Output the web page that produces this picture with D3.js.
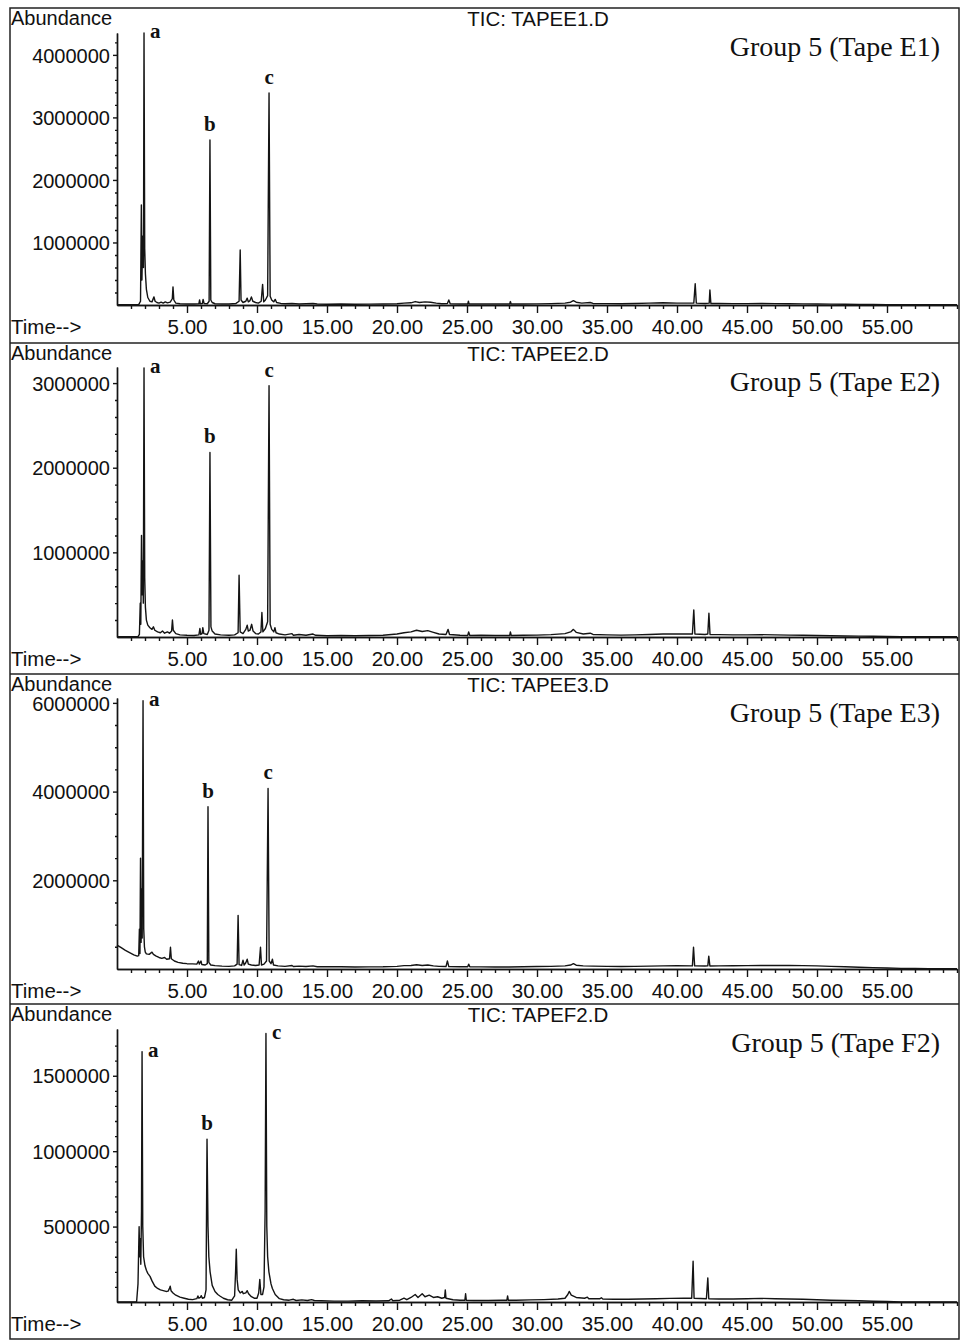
<!DOCTYPE html>
<meta charset="utf-8">
<style type="text/css">
body { margin: 0; background: #fff; }
.trace { fill: none; stroke: #141414; stroke-width: 1.4px; stroke-linejoin: round; }
.frame { stroke: #222; stroke-width: 1.5px; }
.axis path, .axis line { stroke: #141414; stroke-width: 1.4px; }
.sans { font-family: "Liberation Sans", Arial, sans-serif; fill: #111; }
.serif { font-family: "Liberation Serif", "Times New Roman", serif; fill: #111; }
</style>
<body>
</body>
<script src="https://cdn.jsdelivr.net/npm/d3@7/dist/d3.min.js"></script>
<script>

// ---- data (abundance in thousands) ----
var fileNames = ["TIC: TAPEE1.D", "TIC: TAPEE2.D", "TIC: TAPEE3.D", "TIC: TAPEF2.D"];
var sampleNames = ["Group 5 (Tape E1)", "Group 5 (Tape E2)", "Group 5 (Tape E3)", "Group 5 (Tape F2)"];
var yMaxValues = [4350000, 3190000, 6110000, 1810000];
var yTickValues = [
    [1000000, 2000000, 3000000, 4000000],
    [1000000, 2000000, 3000000],
    [2000000, 4000000, 6000000],
    [500000, 1000000, 1500000]
];
var yMinorValues = [
    [200000, 400000, 600000, 800000, 1200000, 1400000, 1600000, 1800000, 2200000, 2400000, 2600000, 2800000, 3200000, 3400000, 3600000, 3800000, 4200000],
    [200000, 400000, 600000, 800000, 1200000, 1400000, 1600000, 1800000, 2200000, 2400000, 2600000, 2800000],
    [500000, 1000000, 1500000, 2500000, 3000000, 3500000, 4500000, 5000000, 5500000],
    [100000, 200000, 300000, 400000, 600000, 700000, 800000, 900000, 1100000, 1200000, 1300000, 1400000, 1600000, 1700000]
];
var xTickValues = [5, 10, 15, 20, 25, 30, 35, 40, 45, 50, 55];
var xTickLabels = ["5.00", "10.00", "15.00", "20.00", "25.00", "30.00", "35.00", "40.00", "45.00", "50.00", "55.00"];
var xMinorValues = [1,2,3,4,6,7,8,9,11,12,13,14,16,17,18,19,21,22,23,24,26,27,28,29,31,32,33,34,36,37,38,39,41,42,43,44,46,47,48,49,51,52,53,54,56,57,58,59,60];

var peakNames = ["a", "b", "c"];
var peakTimes = [[1.93, 6.64, 10.86], [1.93, 6.64, 10.86], [1.86, 6.50, 10.79], [1.79, 6.43, 10.64]];
var labelSides = [["r", "c", "c"], ["r", "c", "c"], ["r", "c", "c"], ["r", "c", "r"]];

var traceE1 = [[0,5],[1.55,5],[1.68,60],[1.74,1600],[1.78,400],[1.84,1100],[1.89,600],[1.93,4350],[1.98,900],[2.03,500],[2.1,250],[2.2,120],[2.35,60],[2.5,50],[2.64,130],[2.72,60],[2.85,40],[3,30],[3.15,45],[3.3,30],[3.45,50],[3.6,35],[3.8,45],[3.95,100],[4,290],[4.06,80],[4.2,30],[4.5,20],[5,15],[5.5,15],[5.85,20],[5.9,80],[5.95,20],[6.1,25],[6.15,90],[6.22,25],[6.45,20],[6.58,60],[6.64,2640],[6.7,80],[6.8,40],[7,20],[7.5,15],[8,15],[8.5,25],[8.72,60],[8.8,880],[8.86,80],[9,40],[9.2,60],[9.3,110],[9.38,50],[9.5,70],[9.6,130],[9.7,60],[9.9,40],[10.1,30],[10.3,60],[10.4,330],[10.48,50],[10.6,80],[10.76,150],[10.86,3390],[10.94,140],[11.05,80],[11.2,50],[11.3,90],[11.4,40],[11.7,25],[12,20],[12.5,25],[13,15],[13.5,20],[14,25],[14.3,15],[15,12],[16,15],[17,12],[18,14],[19,15],[20,20],[20.5,30],[21,35],[21.3,55],[21.6,40],[22,50],[22.4,45],[22.8,30],[23.2,20],[23.6,25],[23.7,80],[23.8,20],[24.5,15],[25.05,15],[25.1,60],[25.15,15],[26,18],[27,15],[28.05,15],[28.1,55],[28.15,15],[29,15],[30,18],[31,22],[32,30],[32.4,45],[32.6,70],[32.8,45],[33.2,30],[33.8,40],[34,25],[35,22],[36,20],[37,25],[38,30],[39,35],[40,30],[41.2,30],[41.3,340],[41.38,30],[42,25],[42.3,30],[42.35,240],[42.42,25],[43,25],[44,22],[45,22],[46,25],[47,22],[48,20],[49,18],[50,16],[51,14],[52,12],[53,10],[54,8],[55,6],[56,5],[57,5],[58,4],[59,4],[60,4]];

var traceE2 = [[0,5],[1.5,5],[1.6,30],[1.66,400],[1.7,150],[1.75,1200],[1.79,500],[1.84,900],[1.88,400],[1.93,3180],[1.98,700],[2.03,350],[2.1,200],[2.2,140],[2.35,110],[2.5,90],[2.6,120],[2.7,80],[2.9,60],[3.1,50],[3.25,70],[3.4,45],[3.6,60],[3.75,45],[3.9,70],[3.96,200],[4.02,80],[4.2,40],[4.5,25],[5,20],[5.5,18],[5.85,25],[5.92,100],[5.98,30],[6.08,40],[6.13,110],[6.2,40],[6.45,30],[6.57,80],[6.64,2180],[6.71,120],[6.8,70],[7,35],[7.4,25],[8,20],[8.4,25],[8.65,50],[8.72,730],[8.8,60],[9,40],[9.2,90],[9.3,140],[9.38,70],[9.5,80],[9.62,150],[9.72,70],[9.9,40],[10.1,35],[10.28,60],[10.35,290],[10.42,60],[10.6,100],[10.76,180],[10.86,2970],[10.94,150],[11.05,90],[11.2,60],[11.28,110],[11.36,50],[11.6,35],[12,25],[12.5,40],[12.6,20],[13,30],[13.5,20],[14,35],[14.2,20],[15,15],[16,18],[17,15],[18,18],[19,20],[20,35],[20.5,50],[21,60],[21.4,80],[21.8,65],[22.2,75],[22.6,55],[23,35],[23.5,30],[23.65,90],[23.75,30],[24.5,20],[25.05,18],[25.12,60],[25.2,18],[26,20],[27,18],[28.05,18],[28.1,60],[28.16,18],[29,20],[30,22],[31,28],[32,40],[32.4,60],[32.6,90],[32.8,55],[33.3,35],[33.8,45],[34,30],[35,25],[36,22],[37,25],[38,30],[39,35],[40,35],[41.1,35],[41.2,320],[41.28,35],[42,30],[42.2,35],[42.28,280],[42.36,30],[43,28],[44,25],[45,25],[46,28],[47,25],[48,22],[49,20],[50,18],[51,15],[52,12],[53,10],[54,8],[55,6],[56,5],[57,5],[58,4],[59,4],[60,4]];

var traceE3 = [[0,540],[0.3,480],[0.6,420],[0.9,370],[1.2,320],[1.45,290],[1.55,300],[1.6,900],[1.64,350],[1.68,2500],[1.72,600],[1.76,1800],[1.8,700],[1.86,6050],[1.91,900],[1.96,500],[2.02,380],[2.1,340],[2.3,330],[2.5,380],[2.6,330],[2.8,290],[3,260],[3.2,240],[3.4,260],[3.55,220],[3.75,230],[3.82,490],[3.88,230],[4.1,180],[4.36,150],[4.7,130],[5,120],[5.4,115],[5.7,110],[5.82,180],[5.88,110],[6,180],[6.06,100],[6.3,90],[6.45,120],[6.5,3660],[6.56,150],[6.7,90],[7,75],[7.5,65],[8,60],[8.4,70],[8.58,110],[8.65,1210],[8.72,100],[8.9,80],[9,200],[9.08,90],[9.2,140],[9.3,220],[9.38,110],[9.6,90],[9.9,80],[10.15,90],[10.25,490],[10.32,90],[10.5,110],[10.68,180],[10.79,4070],[10.87,180],[11,120],[11.1,220],[11.18,90],[11.5,70],[12,60],[12.5,80],[12.6,55],[13,65],[13.5,55],[14,70],[14.3,50],[15,50],[16,50],[17,45],[18,48],[19,50],[20,60],[20.5,75],[21,80],[21.4,95],[21.8,80],[22.2,90],[22.6,70],[23,60],[23.5,55],[23.6,180],[23.7,55],[24.5,50],[25.05,50],[25.12,110],[25.2,50],[26,48],[27,45],[28,45],[29,50],[30,55],[31,60],[32,70],[32.4,90],[32.6,120],[32.8,85],[33.3,70],[34,65],[35,60],[36,58],[37,60],[38,65],[39,70],[40,72],[41.1,70],[41.18,490],[41.26,70],[42,68],[42.2,70],[42.27,290],[42.35,68],[43,70],[44,72],[45,75],[46,80],[47,80],[48,78],[49,75],[50,70],[51,60],[52,50],[53,40],[54,30],[55,22],[56,15],[57,10],[58,8],[59,6],[60,5]];

var traceF2 = [[0,0],[1.4,0],[1.5,120],[1.58,500],[1.62,300],[1.66,420],[1.7,250],[1.75,600],[1.79,1660],[1.84,500],[1.9,300],[2,240],[2.1,210],[2.2,190],[2.36,170],[2.5,140],[2.7,105],[2.9,90],[3.1,80],[3.3,75],[3.5,70],[3.65,72],[3.75,90],[3.8,105],[3.86,75],[4,60],[4.2,45],[4.5,32],[4.8,25],[5.1,18],[5.4,16],[5.7,22],[5.78,40],[5.85,25],[5.95,30],[6.02,42],[6.1,25],[6.25,30],[6.36,80],[6.43,1080],[6.5,500],[6.56,300],[6.65,200],[6.8,110],[7,70],[7.2,50],[7.35,40],[7.6,25],[7.9,15],[8.2,12],[8.4,40],[8.47,200],[8.52,350],[8.58,150],[8.66,80],[8.8,60],[8.95,70],[9.02,55],[9.2,60],[9.3,75],[9.4,55],[9.6,35],[9.8,25],[10,25],[10.12,60],[10.2,150],[10.28,50],[10.4,50],[10.5,100],[10.58,600],[10.64,1780],[10.7,500],[10.76,300],[10.85,200],[11,120],[11.1,90],[11.3,50],[11.6,22],[11.9,15],[12.3,12],[12.6,18],[12.8,10],[13.2,14],[13.6,10],[13.9,16],[14.1,10],[14.6,8],[15.5,6],[16.5,6],[17.5,8],[18.5,7],[19.4,8],[19.6,20],[19.7,8],[20.2,12],[20.5,25],[20.7,15],[21,30],[21.3,50],[21.5,30],[21.8,55],[22,35],[22.3,45],[22.6,30],[22.9,35],[23.2,25],[23.4,30],[23.45,80],[23.5,25],[24,15],[24.5,12],[24.85,12],[24.9,55],[24.95,12],[25.5,10],[26.5,10],[27.5,12],[27.85,12],[27.9,40],[27.95,12],[28.5,12],[29.5,14],[30.5,16],[31.5,20],[32,25],[32.2,50],[32.3,70],[32.45,45],[32.8,30],[33.4,25],[33.6,32],[33.7,22],[34.5,22],[34.6,28],[34.7,20],[35.5,18],[36.5,18],[37.5,20],[38.5,22],[39.5,24],[40.5,25],[41.05,25],[41.15,270],[41.22,25],[42.1,22],[42.2,160],[42.27,22],[43,20],[44,20],[45,22],[46,24],[47,22],[48,20],[49,18],[50,15],[51,12],[52,10],[53,8],[54,5],[55,3],[56,1],[57,0],[58,0],[59,0],[60,0]];

var traces = [traceE1, traceE2, traceE3, traceF2];

// ---- layout (each scanned panel sits a little differently) ----
var W = 962, H = 1342;
var panelTops = [8, 343, 674, 1004];
var axisTops = [33, 367, 698, 1029];
var baselines = [305, 637, 969, 1302];
var frameBottom = 1339;
var frameLeft = 10, frameRight = 959;
var plotLeft = 117, plotRight = 957;

var svg = d3.select("body").append("svg")
    .attr("width", W)
    .attr("height", H);

var x = d3.scaleLinear().domain([0, 60]).range([plotLeft, plotRight]);

// outer frame + separators
svg.append("rect").attr("class", "frame").attr("fill", "none")
    .attr("x", frameLeft).attr("y", panelTops[0])
    .attr("width", frameRight - frameLeft).attr("height", frameBottom - panelTops[0]);
panelTops.slice(1).forEach(function(t) {
    svg.append("line").attr("class", "frame")
        .attr("x1", frameLeft).attr("x2", frameRight).attr("y1", t).attr("y2", t);
});

panelTops.forEach(function(top, i) {
    var g = svg.append("g");
    var base = baselines[i];
    var y = d3.scaleLinear().domain([0, yMaxValues[i]]).range([base, axisTops[i]]);

    // x axis: minor then major
    g.append("g").attr("class", "axis")
        .attr("transform", "translate(0," + base + ")")
        .call(d3.axisBottom(x).tickValues(xMinorValues).tickSize(4).tickSizeOuter(0).tickFormat(""));
    var xa = g.append("g").attr("class", "axis sans")
        .attr("transform", "translate(0," + base + ")")
        .call(d3.axisBottom(x).tickValues(xTickValues).tickSize(8).tickSizeOuter(0)
            .tickFormat(function(d, k) { return xTickLabels[k]; }));
    xa.selectAll("text").attr("y", 29).attr("dy", 0)
        .style("font-size", "20.5px").attr("fill", "#111");

    // y axis
    g.append("g").attr("class", "axis")
        .attr("transform", "translate(" + plotLeft + ",0)")
        .call(d3.axisLeft(y).tickValues(yMinorValues[i]).tickSize(2).tickSizeOuter(0).tickFormat(""));
    var ya = g.append("g").attr("class", "axis sans")
        .attr("transform", "translate(" + plotLeft + ",0)")
        .call(d3.axisLeft(y).tickValues(yTickValues[i]).tickSize(4).tickSizeOuter(0)
            .tickFormat(d3.format("d")));
    ya.selectAll("text").attr("x", -7).attr("dy", "0.36em")
        .style("font-size", "20px").attr("fill", "#111");
    g.selectAll(".axis").attr("font-family", null);

    // texts
    g.append("text").attr("class", "sans")
        .attr("x", 11).attr("y", top + 17)
        .style("font-size", "20px").text("Abundance");
    g.append("text").attr("class", "sans")
        .attr("x", 11).attr("y", base + 29)
        .style("font-size", "20.5px").text("Time-->");
    g.append("text").attr("class", "sans")
        .attr("x", 538).attr("y", top + 18)
        .attr("text-anchor", "middle")
        .style("font-size", "20.5px").text(fileNames[i]);
    g.append("text").attr("class", "serif")
        .attr("x", 940).attr("y", top + 48)
        .attr("text-anchor", "end")
        .style("font-size", "28px").text(sampleNames[i]);

    // trace
    var line = d3.line()
        .x(function(d) { return x(d[0]); })
        .y(function(d) { return y(d[1] * 1000); });
    g.append("path").datum(traces[i]).attr("class", "trace").attr("d", line);

    // peak labels a, b, c placed at the top of each named peak
    peakTimes[i].forEach(function(t, k) {
        var near = traces[i].filter(function(d) { return Math.abs(d[0] - t) < 0.03; });
        var top_v = d3.max(near, function(d) { return d[1]; });
        var px = x(t), py = y(top_v * 1000);
        var side = labelSides[i][k];
        g.append("text").attr("class", "serif")
            .attr("x", side == "r" ? px + 6 : px)
            .attr("y", side == "r" ? py + 5 : py - 9)
            .attr("text-anchor", side == "r" ? "start" : "middle")
            .style("font-size", "21px").style("font-weight", "bold")
            .text(peakNames[k]);
    });
});

</script>
